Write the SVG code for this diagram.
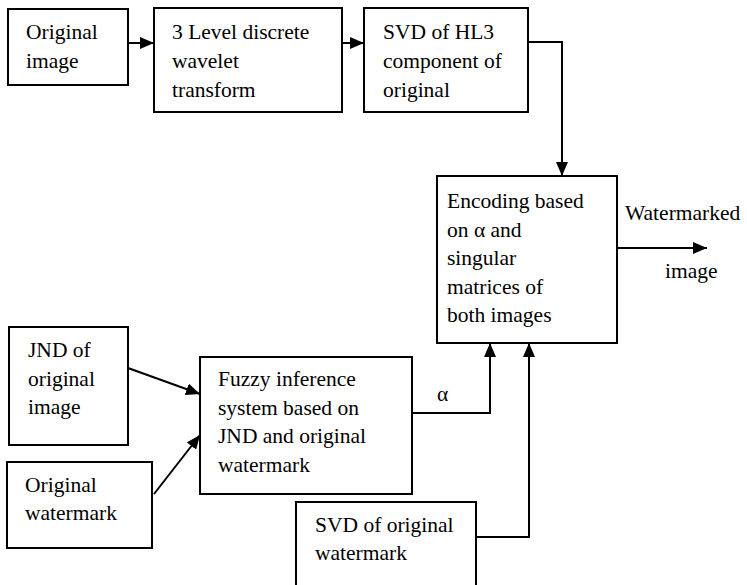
<svg xmlns="http://www.w3.org/2000/svg" width="747" height="585" viewBox="0 0 747 585">
<style>
.box{fill:#fff;stroke:#000;stroke-width:2}
text{font-family:'Liberation Serif','Times New Roman','DejaVu Serif',serif;font-size:21.5px;fill:#000}
.c{fill:none;stroke:#000;stroke-width:2}
</style>
<defs>
<marker id="ah" viewBox="0 0 14 12" refX="14" refY="6" markerWidth="14" markerHeight="12" markerUnits="userSpaceOnUse" orient="auto">
<path d="M0,0 L14,6 L0,12 Z" fill="#000"/>
</marker>
</defs>
<rect width="747" height="585" fill="#fff"/>
<g font-family="Liberation Serif, Times New Roman, DejaVu Serif, serif" font-size="21.5">
<g id="n-original-image"><rect class="box" x="8" y="9" width="120" height="76"/>
<text x="26" y="39">Original</text><text x="26" y="68">image</text></g>
<g id="n-dwt"><rect class="box" x="154" y="8" width="188" height="104"/>
<text x="172" y="39">3 Level discrete</text><text x="172" y="68">wavelet</text><text x="172" y="97">transform</text></g>
<g id="n-svd-hl3"><rect class="box" x="364" y="8" width="164" height="104"/>
<text x="383" y="39">SVD of HL3</text><text x="383" y="68">component of</text><text x="383" y="97">original</text></g>
<g id="n-encoding"><rect class="box" x="437" y="176" width="180" height="167"/>
<text x="447" y="208">Encoding based</text><text x="447" y="237">on α and</text><text x="447" y="265">singular</text><text x="447" y="294">matrices of</text><text x="447" y="322">both images</text></g>
<g id="n-jnd"><rect class="box" x="9" y="327" width="119" height="118"/>
<text x="28" y="357">JND of</text><text x="28" y="386">original</text><text x="28" y="414">image</text></g>
<g id="n-orig-wm"><rect class="box" x="7" y="462" width="145" height="86"/>
<text x="25" y="492">Original</text><text x="25" y="520">watermark</text></g>
<g id="n-fuzzy"><rect class="box" x="200" y="357" width="212" height="137"/>
<text x="218" y="386">Fuzzy inference</text><text x="218" y="415">system based on</text><text x="218" y="443">JND and original</text><text x="218" y="472">watermark</text></g>
<g id="n-svd-wm"><rect class="box" x="296" y="502" width="180" height="100"/>
<text x="315" y="532">SVD of original</text><text x="315" y="560">watermark</text></g>
<g id="connectors">
<line class="c" x1="128" y1="43" x2="154" y2="43" marker-end="url(#ah)"/>
<line class="c" x1="342" y1="43" x2="364" y2="43" marker-end="url(#ah)"/>
<polyline class="c" points="528,42 562,42 562,176" marker-end="url(#ah)"/>
<line class="c" x1="617" y1="248" x2="707" y2="248" marker-end="url(#ah)"/>
<line class="c" x1="128" y1="368" x2="200" y2="394" marker-end="url(#ah)"/>
<line class="c" x1="154" y1="494" x2="200" y2="435" marker-end="url(#ah)"/>
<polyline class="c" points="412,413 490,413 490,343" marker-end="url(#ah)"/>
<polyline class="c" points="476,537 529,537 529,343" marker-end="url(#ah)"/>
<text x="437" y="401">α</text>
<text x="625" y="220">Watermarked</text>
<text x="665" y="278">image</text>
</g>
</g>
</svg>
